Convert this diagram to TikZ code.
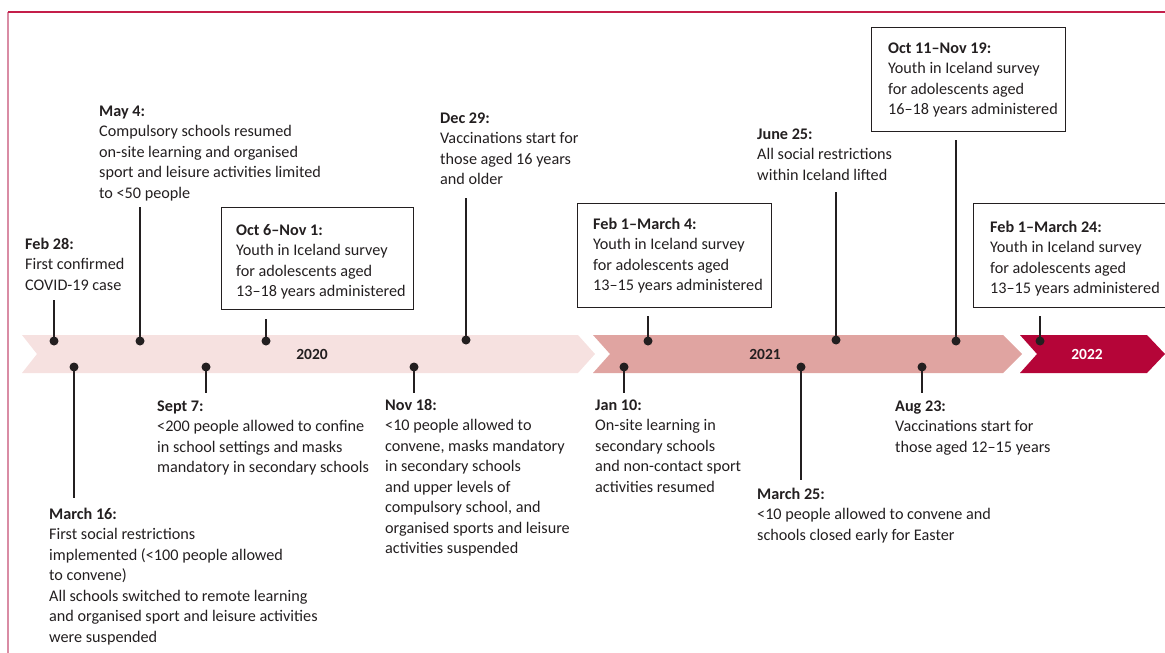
\documentclass[tikz,border=0pt]{standalone}
\usepackage{fontspec}
\setmainfont{Carlito}
\definecolor{ink}{HTML}{231F20}
\definecolor{band0}{HTML}{F6E1E0}
\definecolor{band1}{HTML}{E0A4A1}
\definecolor{band2}{HTML}{B50538}
\definecolor{frametop}{HTML}{C41E4A}
\definecolor{frameleft}{HTML}{D98CA4}
\newcommand{\evfont}{\fontsize{16.2}{20.5}\selectfont}
\newcommand{\hs}{\rule{0pt}{13pt}}
\tikzset{
  txt/.style={anchor=north west, align=left, inner sep=0pt, font=\evfont, text=ink, yshift=13pt},
  yearlbl/.style={font=\fontsize{15.5}{17}\selectfont\bfseries, text=ink, inner sep=0pt},
  evdot/.style={circle, fill=ink, inner sep=0pt, minimum size=9pt},
  stem/.style={draw=ink, line width=1.3pt},
  evbox/.style={draw=ink, line width=1.1pt, anchor=north west, inner sep=0pt}
}
\begin{document}
\begin{tikzpicture}[x=1pt,y=-1pt]
\useasboundingbox (0,0) rectangle (1165,653);
% frame
\draw[frameleft, line width=1.3pt] (8,653) -- (8,12);
\draw[frametop, line width=1.3pt] (8,12) -- (1165,12);
% bands
\fill[band0] (22,335) -- (578,335) -- (595,354) -- (578,373) -- (22,373) -- (37,354) -- cycle;
\fill[band1] (593,335) -- (1003,335) -- (1022,354) -- (1003,373) -- (593,373) -- (610,354) -- cycle;
\fill[band2] (1020,335) -- (1147,335) -- (1165,354) -- (1147,373) -- (1020,373) -- (1037,354) -- cycle;
\node[yearlbl] (y2020) at (312,354) {2020};
\node[yearlbl] (y2021) at (765,354) {2021};
\node[yearlbl, text=white] (y2022) at (1087,354) {2022};

% boxes
\node[evbox, minimum width=192pt, minimum height=102pt] (bx1) at (221,207) {};
\node[evbox, minimum width=194pt, minimum height=104pt] (bx2) at (577,203) {};
\node[evbox, minimum width=194pt, minimum height=104pt] (bx3) at (871,27) {};
\node[evbox, minimum width=210pt, minimum height=104pt] (bx4) at (973,203) {};

% top texts (coordinates = first baseline)
\node[txt] (t1) at (25,249) {\hs\textbf{Feb 28:}\\First confirmed\\COVID-19 case};
\node[txt] (t2) at (99,116) {\hs\textbf{May 4:}\\Compulsory schools resumed\\on-site learning and organised\\sport and leisure activities limited\\to <50 people};
\node[txt] (t3) at (236,235) {\hs\textbf{Oct 6–Nov 1:}\\Youth in Iceland survey\\for adolescents aged\\13–18 years administered};
\node[txt] (t4) at (440,123) {\hs\textbf{Dec 29:}\\Vaccinations start for\\those aged 16 years\\and older};
\node[txt] (t5) at (593,229) {\hs\textbf{Feb 1–March 4:}\\Youth in Iceland survey\\for adolescents aged\\13–15 years administered};
\node[txt] (t6) at (757,139) {\hs\textbf{June 25:}\\All social restrictions\\within Iceland lifted};
\node[txt] (t7) at (888,53) {\hs\textbf{Oct 11–Nov 19:}\\Youth in Iceland survey\\for adolescents aged\\16–18 years administered};
\node[txt] (t8) at (990,232) {\hs\textbf{Feb 1–March 24:}\\Youth in Iceland survey\\for adolescents aged\\13–15 years administered};

% bottom texts
\node[txt] (b1) at (49,519) {\hs\textbf{March 16:}\\First social restrictions\\implemented (<100 people allowed\\to convene)\\All schools switched to remote learning\\and organised sport and leisure activities\\were suspended};
\node[txt] (b2) at (157,411) {\hs\textbf{Sept 7:}\\<200 people allowed to confine\\in school settings and masks\\mandatory in secondary schools};
\node[txt] (b3) at (385,410) {\hs\textbf{Nov 18:}\\<10 people allowed to\\convene, masks mandatory\\in secondary schools\\and upper levels of\\compulsory school, and\\organised sports and leisure\\activities suspended};
\node[txt] (b4) at (595,410) {\hs\textbf{Jan 10:}\\On-site learning in\\secondary schools\\and non-contact sport\\activities resumed};
\node[txt] (b5) at (757,499) {\hs\textbf{March 25:}\\<10 people allowed to convene and\\schools closed early for Easter};
\node[txt] (b6) at (895,411) {\hs\textbf{Aug 23:}\\Vaccinations start for\\those aged 12–15 years};

% top dots and stems
\node[evdot] (d1) at (54,341) {};   \coordinate (c1) at (54,300);
\node[evdot] (d2) at (140,341) {};  \coordinate (c2) at (140,207);
\node[evdot] (d3) at (266,341) {};  \coordinate (c3) at (266,319);
\node[evdot] (d4) at (466,340) {};  \coordinate (c4) at (466,198);
\node[evdot] (d5) at (648,341) {};  \coordinate (c5) at (648,316);
\node[evdot] (d6) at (836,340) {};  \coordinate (c6) at (836,192);
\node[evdot] (d7) at (956,341) {};  \coordinate (c7) at (956,140);
\node[evdot] (d8) at (1040,341) {}; \coordinate (c8) at (1040,316);
% bottom dots and stems
\node[evdot] (e1) at (74,367) {};   \coordinate (f1) at (74,498);
\node[evdot] (e2) at (206,367) {};  \coordinate (f2) at (206,393);
\node[evdot] (e3) at (414,367) {};  \coordinate (f3) at (414,393);
\node[evdot] (e4) at (624,367) {};  \coordinate (f4) at (624,393);
\node[evdot] (e5) at (801,367) {};  \coordinate (f5) at (801,480);
\node[evdot] (e6) at (922,367) {};  \coordinate (f6) at (922,393);

\foreach \i in {1,...,8} { \draw[stem] (d\i.center) -- (c\i); }
\foreach \i in {1,...,6} { \draw[stem] (e\i.center) -- (f\i); }
\end{tikzpicture}
\end{document}
